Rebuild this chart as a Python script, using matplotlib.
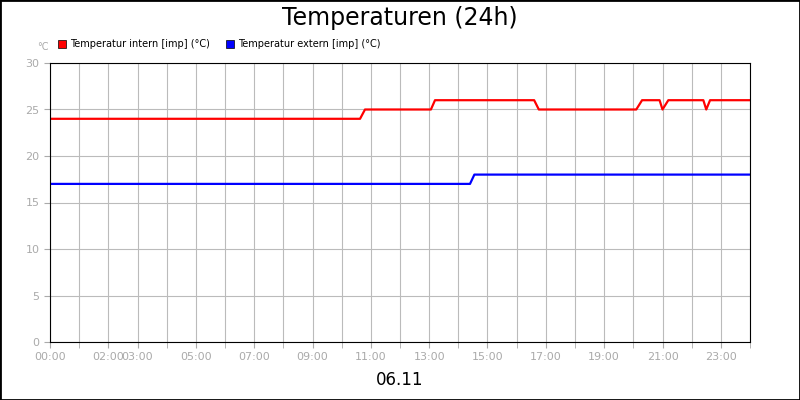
import matplotlib
matplotlib.use("Agg")
import matplotlib.pyplot as plt
from matplotlib.patches import Rectangle

red_t = [0, 10.63, 10.8, 13.06, 13.2, 16.6, 16.76, 20.1, 20.3, 20.9, 21.0, 21.2, 22.4, 22.5, 22.63, 24]
red_v = [24, 24, 25, 25, 26, 26, 25, 25, 26, 26, 25, 26, 26, 25, 26, 26]
blue_t = [0, 14.4, 14.55, 24]
blue_v = [17, 17, 18, 18]
tick_hours = [0, 2, 3, 5, 7, 9, 11, 13, 15, 17, 19, 21, 23]
tick_labels = ["00:00", "02:00", "03:00", "05:00", "07:00", "09:00", "11:00", "13:00", "15:00", "17:00", "19:00", "21:00", "23:00"]

fig = plt.figure(figsize=(8, 4), dpi=100)
fig.patches.append(Rectangle((0, 0), 1, 1, transform=fig.transFigure, fill=False, edgecolor="black", linewidth=2))
ax = fig.add_axes([50/800, 58/400, 700/800, 279/400])
ax.set_xlim(0, 24)
ax.set_ylim(0, 30)
ax.set_xticks(range(25), minor=True)
ax.set_xticks(tick_hours)
ax.set_xticklabels(tick_labels)
ax.set_yticks(range(0, 31, 5))
ax.grid(True, which="both", axis="x", color="#bbbbbb", linewidth=0.8)
ax.grid(True, which="major", axis="y", color="#bbbbbb", linewidth=0.8)
ax.tick_params(colors="#aaaaaa", labelsize=8, length=4)
ax.tick_params(which="minor", colors="#aaaaaa", length=4)
for s in ax.spines.values():
    s.set_color("black")
ax.plot(red_t, red_v, color="#ff0000", linewidth=1.6)
ax.plot(blue_t, blue_v, color="#0000ff", linewidth=1.6)
fig.text(0.5, 0.955, "Temperaturen (24h)", ha="center", va="center", fontsize=17)
fig.text(0.5, 0.05, "06.11", ha="center", va="center", fontsize=12)
fig.text(37/800, 1-47/400, "°C", ha="left", va="center", fontsize=7, color="#aaaaaa")
fig.patches.append(Rectangle((58/800, 1-48/400), 8/800, 8/400, transform=fig.transFigure, facecolor="#ff0000", edgecolor="black", linewidth=0.5))
fig.text(70/800, 1-44/400, "Temperatur intern [imp] (°C)", ha="left", va="center", fontsize=7)
fig.patches.append(Rectangle((226/800, 1-48/400), 8/800, 8/400, transform=fig.transFigure, facecolor="#0000ff", edgecolor="black", linewidth=0.5))
fig.text(238/800, 1-44/400, "Temperatur extern [imp] (°C)", ha="left", va="center", fontsize=7)
fig.savefig("out.png", dpi=100)
